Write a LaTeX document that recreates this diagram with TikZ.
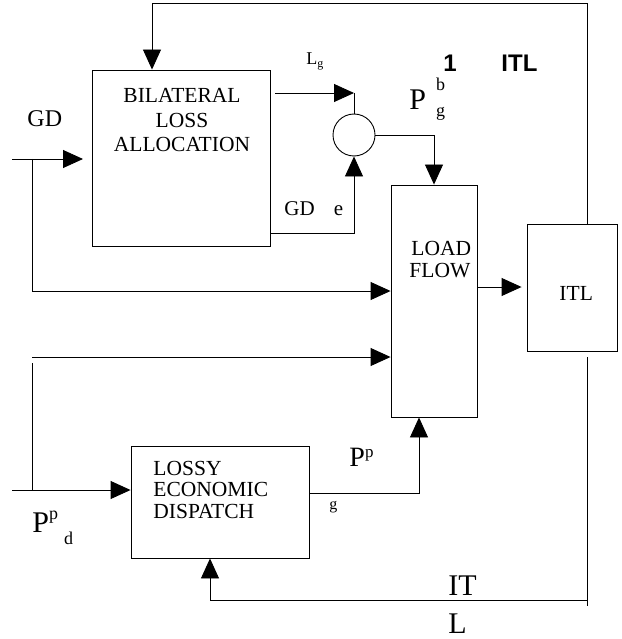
\documentclass[tikz,border=0pt]{standalone}
\usepackage{fontspec}
\setmainfont{Liberation Serif}
\newfontfamily\headfont{Liberation Sans}
\usetikzlibrary{arrows.meta}

\newcommand{\fsz}[1]{\fontsize{#1}{#1}\selectfont}

\begin{document}
\begin{tikzpicture}[x=1pt, y=-1pt, line width=0.9pt,
  every node/.style={inner sep=0pt, font=\fsz{21.5}},
  block/.style={draw, minimum width=#1},
  sig/.style={-{Triangle[length=20pt,width=18pt]}}]
  \useasboundingbox (0,0) rectangle (621,639);
  % blocks
  \node[block=178pt, minimum height=176pt] (bla) at (181,158) {};
  \node[block=178pt, minimum height=112pt] (led) at (220,502) {};
  \node[block=86pt, minimum height=232pt] (lf) at (434,301) {};
  \node[block=90pt, minimum height=127pt] (itl) at (572,287.5) {};
  \node[draw, circle, minimum size=42pt] (sum) at (354,135) {};
  % block texts
  \node[anchor=base] at (182,103) {BILATERAL};
  \node[anchor=base] at (182,128) {LOSS};
  \node[anchor=base] at (182,152) {ALLOCATION};
  \node[anchor=base west] at (153,475) {LOSSY};
  \node[anchor=base west] at (153,496) {ECONOMIC};
  \node[anchor=base west] at (153,518) {DISPATCH};
  \node[anchor=base west] at (411,255) {LOAD};
  \node[anchor=base west] at (409,277) {FLOW};
  \node[anchor=base west] at (559,300) {ITL};
  % signal labels
  \node[anchor=base west, font=\fsz{24}] at (27,127) {GD};
  \node[anchor=base west, font=\fsz{18}] at (306,65) {L\raisebox{-3pt}{\fsz{12}g}};
  \node[anchor=base west, font=\fsz{24}\headfont\bfseries] at (443,72) {1};
  \node[anchor=base west, font=\fsz{24}\headfont\bfseries] at (501,72) {ITL};
  \node[anchor=base west, font=\fsz{30}] at (409,110)
    {P\hspace{10pt}\makebox[0pt][l]{\fsz{18}\raisebox{19pt}{b}}\raisebox{-7pt}{\fsz{18}g}};
  \node[anchor=base west, font=\fsz{21}] at (284,215) {GD\hspace{19pt}e};
  \node[anchor=base west, font=\fsz{28}] at (349,466)
    {P\raisebox{9pt}{\fsz{17}p}};
  \node[anchor=base west, font=\fsz{16}] at (329,509) {g};
  \node[anchor=base west, font=\fsz{30}] at (32,532)
    {P\raisebox{13pt}{\fsz{18}p}\hspace{6pt}\raisebox{-12pt}{\fsz{18}d}};
  \node[anchor=base west, font=\fsz{30}] at (448,595) {IT};
  \node[anchor=base west, font=\fsz{30}] at (448,633) {L};
  % feedback ITL -> bilateral loss allocation
  \coordinate (fbtop) at (587,3);
  \coordinate (fbdrop) at (152,3);
  \draw[sig] (itl.north -| fbtop) -- (fbtop) -- (fbdrop) -- (bla.north -| fbdrop);
  % feedback ITL -> lossy economic dispatch
  \coordinate (itlgap) at (587,357);
  \coordinate (fbend) at (587,606);
  \coordinate (fbbot) at (587,600);
  \coordinate (fbleft) at (210,600);
  \draw (itlgap) -- (fbend);
  \draw[sig] (fbbot) -- (fbleft) -- (led.south -| fbleft);
  % losses and GD e into the summing point
  \coordinate (lgstart) at (275,93);
  \coordinate (lgtip) at (354,93);
  \draw[sig] (lgstart) -- (lgtip);
  \draw (lgtip) -- (sum.north);
  \coordinate (gdecorner) at (354,233);
  \draw[sig] (bla.east |- gdecorner) -- (gdecorner) -- (sum.south);
  \draw[sig] (sum.east) -| (lf.north);
  % GD input and its branches
  \coordinate (gdin) at (12,159);
  \coordinate (gdtip) at (83,159);
  \draw[sig] (gdin) -- (gdtip);
  \coordinate (busa) at (32,159);
  \coordinate (busb) at (32,291);
  \draw[sig] (busa) -- (busb) -- (lf.west |- busb);
  \coordinate (busc) at (32,357);
  \draw[sig] (busc) -- (lf.west |- busc);
  \coordinate (busd) at (32,363);
  \coordinate (buse) at (32,490);
  \draw (busd) -- (buse);
  \coordinate (pdin) at (12,490);
  \draw[sig] (pdin) -- (led.west |- pdin);
  % dispatch output into load flow
  \coordinate (ppcorner) at (419,493);
  \draw[sig] (led.east |- ppcorner) -- (ppcorner) -- (lf.south -| ppcorner);
  \coordinate (lfout) at (477,287);
  \draw[sig, shorten >=5pt] (lf.east |- lfout) -- (itl.west |- lfout);
\end{tikzpicture}
\end{document}
